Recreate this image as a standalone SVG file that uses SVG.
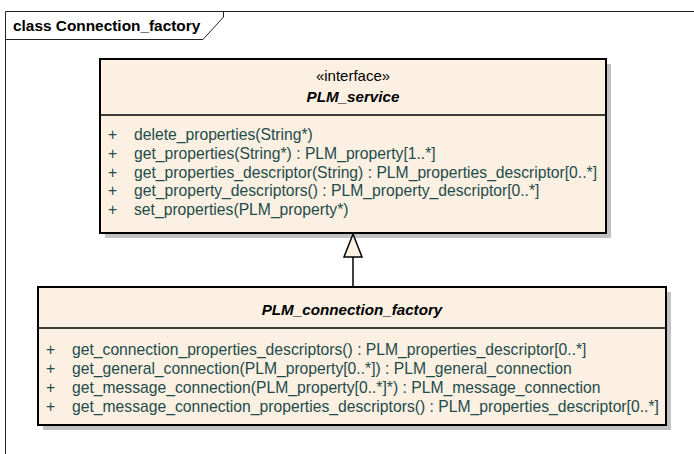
<svg xmlns="http://www.w3.org/2000/svg" width="694" height="454" viewBox="0 0 694 454">
  <style>
    text { font-family: "Liberation Sans", Arial, sans-serif; }
    .title { font-size: 15.4px; font-weight: bold; fill: #000; }
    .stereo { font-size: 15px; fill: #000; text-anchor: middle; }
    .name { font-size: 15.2px; font-weight: bold; font-style: italic; fill: #000; text-anchor: middle; }
    .op { font-size: 15.7px; fill: #1f4b4b; }
    .box { fill: #fbf0e2; stroke: #000; stroke-width: 2; }
    .shadow { fill: #c2c2c2; }
    .div { stroke: #000; stroke-width: 1.5; }
    .frame { fill: none; stroke: #222; stroke-width: 1; }
    .conn { stroke: #000; stroke-width: 1.5; fill: none; }
  </style>
  <rect width="694" height="454" fill="#fff"/>
  <g id="frame">
    <path class="frame" d="M5.5,454 V11.5 H694"/>
    <path class="frame" d="M5.5,39.5 H203 L223.5,17 V11.5"/>
    <text class="title" x="13" y="31">class Connection_factory</text>
  </g>
  <g id="PLM_service">
    <rect class="shadow" x="105" y="64" width="506" height="174"/>
    <rect class="box" x="100" y="59" width="506" height="174"/>
    <line class="div" x1="100" y1="115" x2="606" y2="115"/>
    <text class="stereo" x="353" y="81">«interface»</text>
    <text class="name" x="353" y="102">PLM_service</text>
    <g class="op">
      <text x="108" y="140">+</text><text x="134" y="140">delete_properties(String*)</text>
      <text x="108" y="159">+</text><text x="134" y="159">get_properties(String*) : PLM_property[1..*]</text>
      <text x="108" y="178">+</text><text x="134" y="178">get_properties_descriptor(String) : PLM_properties_descriptor[0..*]</text>
      <text x="108" y="196">+</text><text x="134" y="196">get_property_descriptors() : PLM_property_descriptor[0..*]</text>
      <text x="108" y="215">+</text><text x="134" y="215">set_properties(PLM_property*)</text>
    </g>
  </g>
  <g id="PLM_connection_factory">
    <rect class="shadow" x="43" y="292" width="628" height="138"/>
    <rect class="box" x="38" y="287" width="628" height="138"/>
    <line class="div" x1="38" y1="328" x2="666" y2="328"/>
    <text class="name" x="352" y="315">PLM_connection_factory</text>
    <g class="op">
      <text x="46" y="355">+</text><text x="72" y="355">get_connection_properties_descriptors() : PLM_properties_descriptor[0..*]</text>
      <text x="46" y="374">+</text><text x="72" y="374">get_general_connection(PLM_property[0..*]) : PLM_general_connection</text>
      <text x="46" y="393">+</text><text x="72" y="393">get_message_connection(PLM_property[0..*]*) : PLM_message_connection</text>
      <text x="46" y="412">+</text><text x="72" y="412">get_message_connection_properties_descriptors() : PLM_properties_descriptor[0..*]</text>
    </g>
  </g>
  <g id="connectors">
    <line class="conn" x1="353" y1="257" x2="353" y2="286"/>
    <polygon class="conn" points="353,234 344,257 362,257" style="fill:#fbf0e2"/>
  </g>
</svg>
